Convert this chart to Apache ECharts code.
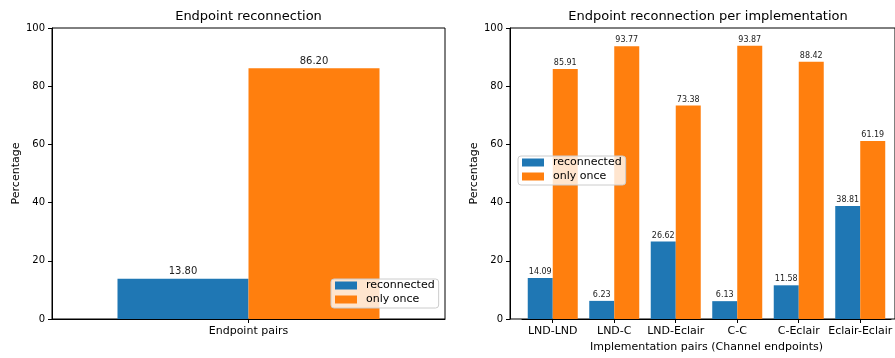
<!DOCTYPE html>
<html>
<head>
<meta charset="utf-8">
<script src="https://cdn.jsdelivr.net/npm/echarts@6/dist/echarts.min.js"></script>
<style>
html,body{margin:0;padding:0;background:#fff;}
#chart{width:895px;height:358px;}
</style>
</head>
<body>
<div id="chart"></div>
<script>
const overallCategory = ['Endpoint pairs'];
const overallReconnected = [13.80];
const overallOnlyOnce = [86.20];
const categories = ['LND-LND', 'LND-C', 'LND-Eclair', 'C-C', 'C-Eclair', 'Eclair-Eclair'];
const reconnected = [14.09, 6.23, 26.62, 6.13, 11.58, 38.81];
const onlyOnce = [85.91, 93.77, 73.38, 93.87, 88.42, 61.19];
const seriesNames = ['reconnected', 'only once'];
const yMin = 0, yMax = 100, yStep = 20;

const FONT = 'DejaVu Sans';
const BLUE = '#1f77b4', ORANGE = '#ff7f0e';
const chart = echarts.init(document.getElementById('chart'));

function valueAxis(gridIndex, showName) {
  return {
    type: 'value', gridIndex: gridIndex, min: yMin, max: yMax, interval: yStep,
    name: showName ? 'Percentage' : '', nameLocation: 'middle', nameGap: 30,
    nameTextStyle: { fontFamily: FONT, fontSize: 11, color: '#000' },
    axisLine: { show: true, lineStyle: { color: '#000', width: 1 } },
    axisTick: { show: true, length: 4, lineStyle: { color: '#000' } },
    axisLabel: { fontFamily: FONT, fontSize: 10, color: '#000', margin: 7 },
    splitLine: { show: false }
  };
}
const labelFmt = p => Number(p.value).toFixed(2);
function legend(left, top) {
  return {
    data: seriesNames, orient: 'vertical', left: left, top: top,
    itemWidth: 22, itemHeight: 8, itemGap: 3, icon: 'rect',
    padding: [1, 4, 3, 4],
    backgroundColor: 'rgba(255,255,255,0.8)', borderColor: '#ccc', borderWidth: 1, borderRadius: 3,
    textStyle: { fontFamily: FONT, fontSize: 11, color: '#000', padding: [0, 0, 0, 4] },
    selectedMode: false
  };
}

chart.setOption({
  animation: false,
  color: [BLUE, ORANGE],
  title: [
    { text: 'Endpoint reconnection', left: 248.5, top: 10, textAlign: 'center', padding: 0,
      textStyle: { fontFamily: FONT, fontSize: 13, fontWeight: 'normal', color: '#000' } },
    { text: 'Endpoint reconnection per implementation', left: 708, top: 10, textAlign: 'center', padding: 0,
      textStyle: { fontFamily: FONT, fontSize: 13, fontWeight: 'normal', color: '#000' } }
  ],
  legend: [legend(331, 279), legend(518, 156)],
  grid: [
    { left: 52, top: 28, width: 393, height: 291, show: true, borderColor: '#000', borderWidth: 1, containLabel: false },
    { left: 510, top: 28, width: 396, height: 291, show: true, borderColor: '#000', borderWidth: 1, containLabel: false },
    { left: 522, top: 28, width: 372, height: 291, containLabel: false }
  ],
  xAxis: [
    { type: 'category', gridIndex: 0, data: overallCategory,
      axisLine: { show: true, lineStyle: { color: '#000' } },
      axisTick: { show: true, alignWithLabel: true, length: 4, lineStyle: { color: '#000' } },
      axisLabel: { fontFamily: FONT, fontSize: 11, color: '#000', margin: 7 } },
    { type: 'value', gridIndex: 1, min: 0, max: 1, show: false },
    { type: 'category', gridIndex: 2, data: categories,
      name: 'Implementation pairs (Channel endpoints)', nameLocation: 'middle', nameGap: 21,
      nameTextStyle: { fontFamily: FONT, fontSize: 11, color: '#000' },
      axisLine: { show: true, lineStyle: { color: '#000' } },
      axisTick: { show: true, alignWithLabel: true, length: 4, lineStyle: { color: '#000' } },
      axisLabel: { fontFamily: FONT, fontSize: 11, color: '#000', margin: 7, interval: 0 } }
  ],
  yAxis: [
    valueAxis(0, true),
    valueAxis(1, true),
    { type: 'value', gridIndex: 2, min: yMin, max: yMax, show: false }
  ],
  series: [
    { name: seriesNames[0], type: 'bar', xAxisIndex: 0, yAxisIndex: 0, data: overallReconnected,
      barWidth: 131, barGap: '0%', itemStyle: { color: BLUE },
      label: { show: true, position: 'top', distance: 2, formatter: labelFmt, fontFamily: FONT, fontSize: 10, color: '#222' } },
    { name: seriesNames[1], type: 'bar', xAxisIndex: 0, yAxisIndex: 0, data: overallOnlyOnce,
      barWidth: 131, barGap: '0%', itemStyle: { color: ORANGE },
      label: { show: true, position: 'top', distance: 2, formatter: labelFmt, fontFamily: FONT, fontSize: 10, color: '#222' } },
    { name: seriesNames[0], type: 'bar', xAxisIndex: 2, yAxisIndex: 2, data: reconnected,
      barWidth: 25, barGap: '0%', itemStyle: { color: BLUE },
      label: { show: true, position: 'top', distance: 2, formatter: labelFmt, fontFamily: FONT, fontSize: 8, color: '#222' } },
    { name: seriesNames[1], type: 'bar', xAxisIndex: 2, yAxisIndex: 2, data: onlyOnce,
      barWidth: 25, barGap: '0%', itemStyle: { color: ORANGE },
      label: { show: true, position: 'top', distance: 2, formatter: labelFmt, fontFamily: FONT, fontSize: 8, color: '#222' } }
  ]
});
</script>
</body>
</html>
